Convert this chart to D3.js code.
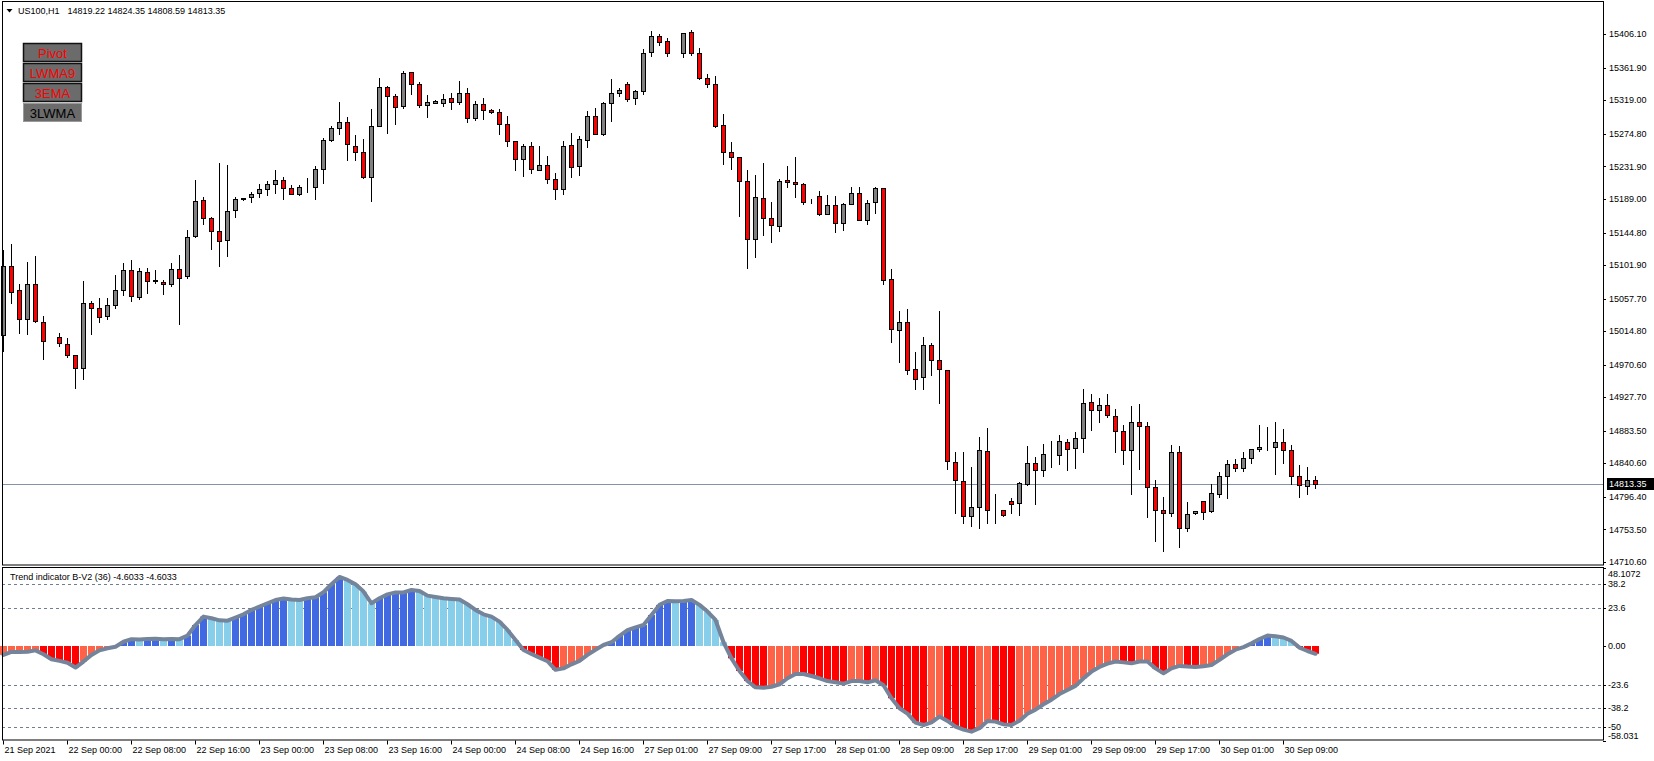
<!DOCTYPE html>
<html><head><meta charset="utf-8">
<script src="https://cdn.jsdelivr.net/npm/d3@7"></script>
<style>html,body{margin:0;padding:0;background:#fff;overflow:hidden}</style>
</head><body><svg id="c" width="1654" height="761"></svg>
<script>
// ---------- DATA ----------
const symbolName = "US100,H1";
const headerValues = [14819.22, 14824.35, 14808.59, 14813.35];
const indicatorTitle = "Trend indicator B-V2 (36) -4.6033 -4.6033";
const lastPrice = 14813.35;

const openP = [15009.3,15100.7,15068.6,15030.4,15076.5,15026.5,null,15006.7,14997.5,14983.0,14965.8,15051.5,15044.9,15035.2,15048.9,15068.6,15095.0,15059.4,15092.4,15081.8,15079.2,15076.5,15096.3,15087.1,15139.8,15187.2,15163.5,15146.4,15134.5,15174.1,15188.6,15191.2,15196.5,15201.7,
15208.3,15213.6,15203.1,15195.1,15204.4,15204.4,15228.1,15266.3,15282.1,15290.0,15258.8,15250.5,15217.5,15284.8,15336.2,15324.3,15311.1,15355.9,15340.1,15312.4,15315.1,15315.1,15321.7,15316.4,15328.3,15295.3,15313.8,15305.9,15303.2,15287.4,15265.0,15241.3,15258.8,
15226.8,15233.4,15214.9,15201.7,15259.7,15232.1,15266.3,15297.9,15274.2,15315.1,15328.3,15340.1,15321.7,15330.9,15382.3,15403.4,15396.8,null,15381.0,15408.6,15381.0,15348.0,15340.1,15286.1,15250.5,15243.9,15212.3,15135.8,15189.9,15163.5,15153.0,15213.6,15211.0,
15208.3,15185.9,15192.5,15168.8,15180.6,15156.9,15182.0,15196.5,15160.9,15184.6,15203.0,15083.1,15015.9,15026.4,14964.5,14954.0,14996.1,14976.4,14963.2,14841.9,14816.9,14770.8,14782.6,14856.4,14780.9,14779.6,14790.5,14787.9,14812.9,14840.6,14831.4,14851.6,14851.2,
14868.3,14860.4,14873.5,14921.0,14910.4,14917.0,14902.5,14882.8,14857.7,14894.6,14889.4,14809.0,14778.6,14774.7,14855.1,14754.9,14774.7,14790.5,14777.3,14799.7,14823.5,14839.3,14834.0,14847.2,14859.0,14861.7,14861.7,14868.3,14857.7,14823.5,14810.3,14819.22];

const highP = [15121.8,15129.7,15077.0,15106.0,15113.9,15034.8,null,15012.4,15005.4,14983.0,15080.9,15054.1,15058.5,15058.5,15088.8,15104.6,15108.6,15098.1,15098.1,15095.4,15081.8,15104.6,15115.2,15148.1,15214.0,15191.6,15165.3,15236.4,15233.8,15191.6,15189.9,15198.7,15209.2,15212.7,
15227.2,15218.0,15207.0,15207.4,15216.7,15232.5,15268.9,15285.2,15316.8,15297.1,15273.3,15268.1,15307.6,15348.5,15337.5,15326.9,15357.7,15355.9,15342.8,15325.6,15319.0,15326.9,15328.3,15344.5,15334.8,15317.7,15322.1,15307.2,15307.6,15298.4,15265.0,15261.0,15263.7,
15258.8,15245.7,15222.8,15265.0,15275.5,15271.6,15305.0,15308.5,15316.8,15346.7,15334.8,15342.8,15332.2,15386.7,15410.0,15406.0,15400.7,null,15407.3,15411.3,15387.6,15353.3,15350.7,15300.6,15263.7,15243.9,15226.8,15220.2,15236.0,15184.6,15214.9,15232.1,15244.4,
15209.6,15188.5,15199.1,15193.8,15192.5,15183.3,15204.4,15204.4,15187.2,15204.4,15203.0,15096.3,15040.9,15043.6,14986.9,15006.7,14998.8,15040.9,14963.2,14855.1,14855.1,14835.3,14875.3,14886.7,14799.8,14779.6,14794.5,14815.6,14863.0,14848.5,14865.7,14869.6,14877.5,
14872.2,14881.4,14938.1,14931.5,14926.3,14931.5,14911.8,14890.7,14915.7,14918.3,14894.6,14818.2,14795.8,14864.3,14863.0,14789.6,14777.3,14790.5,14812.9,14828.7,14844.5,14845.9,14855.1,14859.0,14890.7,14888.0,14894.6,14885.4,14864.3,14838.0,14835.3,14824.35];

const lowP = [14989.1,15052.4,15012.8,15011.5,15027.3,14978.6,null,14995.7,14981.2,14940.4,14952.2,15011.5,15027.3,15031.3,15045.8,15062.5,15055.0,15056.8,15065.6,15078.7,15064.2,15074.8,15024.7,15085.3,15139.4,15156.5,15123.5,15101.1,15114.3,15165.7,15187.2,15185.5,15191.2,15194.7,
15196.5,15188.6,15195.1,15193.8,15197.8,15188.6,15210.5,15265.0,15274.2,15240.8,15240.8,15216.2,15185.9,15284.8,15276.4,15288.3,15308.5,15326.9,15309.8,15296.6,15315.1,15311.1,15307.2,15313.8,15290.0,15292.7,15294.0,15301.9,15275.1,15259.3,15227.7,15218.9,15222.8,
15226.8,15209.6,15189.4,15195.2,15217.6,15220.2,15257.1,15274.2,15272.9,15292.2,15324.3,15317.7,15313.8,15326.9,15377.0,15391.5,15377.0,null,15375.7,15378.3,15346.7,15336.2,15284.3,15235.6,15229.0,15167.0,15097.6,15113.0,15141.1,15132.8,15146.4,15205.3,15191.2,
15182.0,15183.3,15167.5,15168.8,15145.1,15147.7,15182.0,15160.9,15155.6,15170.1,15076.5,15001.0,14974.6,14957.9,14938.1,14938.1,14956.6,14919.7,14832.7,14774.7,14761.5,14757.6,14755.0,14761.5,14761.5,14770.8,14774.7,14772.1,14811.6,14786.6,14823.5,14835.3,14839.3,
14832.2,14834.0,14855.1,14884.1,14894.6,14901.2,14855.1,14839.3,14799.7,14832.7,14769.4,14737.8,14724.6,14770.7,14729.9,14751.0,14773.4,14766.8,14776.0,14795.8,14794.5,14830.0,14830.0,14840.6,14856.4,14857.7,14827.0,14840.6,14812.9,14795.8,14799.7,14808.59];

const closeP = [15100.7,15066.9,15030.4,15076.5,15027.8,15001.4,null,14998.8,14983.0,14965.8,15051.5,15045.8,15033.9,15048.9,15068.6,15095.0,15060.7,15093.7,15080.5,15080.5,15076.5,15096.3,15084.4,15138.5,15185.9,15163.5,15146.4,15133.2,15172.7,15188.6,15189.9,15195.1,15201.7,15208.3,
15213.6,15203.1,15195.1,15204.4,15204.4,15228.1,15266.3,15282.6,15290.0,15261.0,15250.5,15217.5,15284.8,15336.2,15324.3,15309.8,15354.6,15340.1,15312.4,15316.4,15317.7,15320.3,15316.4,15328.3,15295.3,15313.8,15305.9,15303.2,15287.4,15265.0,15241.3,15258.8,15228.1,
15233.4,15214.9,15201.7,15258.4,15230.7,15267.6,15297.9,15274.2,15315.1,15328.3,15332.2,15320.3,15330.9,15381.0,15403.4,15395.5,15381.0,null,15407.3,15381.0,15348.0,15340.1,15285.6,15250.5,15243.9,15212.3,15135.8,15191.2,15163.5,15154.3,15212.3,15211.0,15208.3,
15184.6,15185.9,15168.8,15180.6,15156.9,15182.0,15196.5,15160.9,15183.3,15203.0,15081.8,15017.2,15026.4,14963.2,14951.3,14996.1,14976.4,14964.5,14843.3,14818.2,14770.8,14782.6,14857.8,14778.7,14780.9,14772.1,14786.6,14814.3,14840.6,14831.4,14852.5,14851.6,14869.6,
14859.0,14873.5,14919.7,14910.4,14917.0,14903.8,14882.8,14857.7,14894.6,14889.4,14809.0,14778.6,14774.7,14855.1,14754.9,14773.4,14777.3,14776.0,14801.1,14823.5,14839.3,14834.0,14847.2,14859.0,14861.7,14861.7,14868.3,14857.7,14823.5,14811.6,14818.2,14813.35];

const trendValues = [-5.3,-3.5,-3.5,-3.4,-2.5,-4.9,-8.0,-9.0,-10.1,-13.1,-9.4,-5.3,-2.5,-1.2,-0.3,2.8,4.4,4.2,4.5,4.6,4.3,4.5,4.4,6.6,13.1,18.3,17.3,16.0,15.8,17.7,19.7,22.4,24.4,26.5,28.5,29.4,28.8,28.5,29.6,30.2,33.3,38.2,42.7,40.9,38.2,33.7,26.5,29.6,32.0,33.1,33.2,34.7,34.1,31.2,30.4,29.6,29.2,28.8,25.9,22.4,19.7,18.3,15.2,10.1,3.9,-2.3,-4.7,-7.0,-9.2,-14.5,-13.6,-11.1,-9.0,-5.3,-2.1,0.8,2.5,6.4,9.9,11.7,13.1,19.3,25.5,27.9,27.8,27.9,28.5,25.5,21.4,16.2,2.5,-7.4,-15.2,-21.4,-25.3,-25.5,-24.9,-23.4,-19.7,-17.0,-17.1,-18.3,-19.7,-21.4,-22.2,-23.0,-21.4,-21.4,-22.2,-20.9,-24.0,-32.0,-38.2,-41.5,-47.0,-48.5,-46.8,-43.3,-46.0,-49.5,-51.3,-52.6,-50.5,-46.0,-46.4,-48.1,-48.5,-45.8,-41.5,-39.0,-35.7,-32.9,-29.4,-26.9,-24.4,-19.7,-15.6,-12.7,-10.7,-9.4,-9.9,-10.5,-9.4,-9.4,-13.6,-16.6,-13.6,-12.1,-12.5,-12.7,-12.3,-11.5,-8.4,-4.9,-2.1,-0.5,1.8,4.5,6.6,6.2,5.4,3.3,-0.8,-2.9,-4.6033];

const priceTicks = [15406.10,15361.90,15319.00,15274.80,15231.90,15189.00,15144.80,15101.90,15057.70,15014.80,14970.60,14927.70,14883.50,14840.60,14796.40,14753.50,14710.60];
const indLevels = [38.2,23.6,-23.6,-38.2,-50];
const indAxisValues = [48.1072,38.2,23.6,0,-23.6,-38.2,-50,-58.031];
const indAxisLabels = ["48.1072","38.2","23.6","0.00","-23.6","-38.2","-50","-58.031"];
const timeLabels = ["21 Sep 2021","22 Sep 00:00","22 Sep 08:00","22 Sep 16:00","23 Sep 00:00","23 Sep 08:00","23 Sep 16:00","24 Sep 00:00","24 Sep 08:00","24 Sep 16:00","27 Sep 01:00","27 Sep 09:00","27 Sep 17:00","28 Sep 01:00","28 Sep 09:00","28 Sep 17:00","29 Sep 01:00","29 Sep 09:00","29 Sep 17:00","30 Sep 01:00","30 Sep 09:00"];
const timeLabelBars = [0,8,16,24,32,40,48,56,64,72,80,88,96,104,112,120,128,136,144,152,160];
const buttonLabels = ["Pivot","LWMA9","3EMA","3LWMA"];
const buttonTextColors = ["#ff0000","#ff0000","#ff0000","#000000"];

// ---------- LAYOUT ----------
const W = 1654, H = 761;
const plotL = 2, plotR = 1603;
const mainTop = 2, mainBot = 565;
const indTop = 568, indBot = 740.5;
const FONT = "'Liberation Sans', Arial, sans-serif";

const svg = d3.select("#c");
svg.append("rect").attr("width", W).attr("height", H).attr("fill", "#fff");

const x = d3.scaleLinear().domain([0, 200]).range([3.5, 1603.5]);
const y = d3.scaleLinear().domain([14710.6, 15406.1]).range([561.96, 34.26]);
const yi = d3.scaleLinear().domain([-58.031, 48.1072]).range([740.5, 568.2]);

const N = closeP.length;
const bars = d3.range(N).map(i => ({i, o: openP[i], h: highP[i], l: lowP[i], c: closeP[i], v: trendValues[i]}));

// ---------- MAIN PANEL ----------
const main = svg.append("g");
main.append("line").attr("x1", plotL).attr("x2", plotR)
  .attr("y1", Math.round(y(lastPrice)) + 0.5).attr("y2", Math.round(y(lastPrice)) + 0.5)
  .attr("stroke", "#8494a6").attr("stroke-width", 1);

const candles = main.append("g").selectAll("g").data(bars.filter(d => d.c != null)).join("g");
candles.append("line")
  .attr("x1", d => x(d.i)).attr("x2", d => x(d.i))
  .attr("y1", d => Math.round(y(d.h))).attr("y2", d => Math.round(y(d.l)) + 1)
  .attr("stroke", "#000").attr("stroke-width", 1);
candles.append("rect")
  .attr("x", d => x(d.i) - 2)
  .attr("width", 4)
  .attr("y", d => Math.round(y(Math.max(d.o, d.c))) + 0.5)
  .attr("height", d => Math.max(0, Math.round(y(Math.min(d.o, d.c))) - Math.round(y(Math.max(d.o, d.c)))))
  .attr("fill", d => d.c > d.o ? "#808080" : (d.c < d.o ? "#ff0000" : "#000"))
  .attr("stroke", "#000").attr("stroke-width", 1);

svg.append("rect").attr("x", plotL + 0.5).attr("y", mainTop - 0.5).attr("width", plotR - plotL).attr("height", mainBot - mainTop + 0.5)
  .attr("fill", "none").attr("stroke", "#000").attr("stroke-width", 1);

// price axis
const pa = svg.append("g");
pa.selectAll("line.t").data(priceTicks).join("line").attr("class", "t")
  .attr("x1", plotR).attr("x2", plotR + 3)
  .attr("y1", d => Math.round(y(d)) + 0.5).attr("y2", d => Math.round(y(d)) + 0.5)
  .attr("stroke", "#000");
pa.selectAll("text").data(priceTicks).join("text")
  .attr("x", plotR + 6).attr("y", d => y(d)).attr("dy", "0.35em")
  .attr("font-family", FONT).attr("font-size", 9).attr("fill", "#000")
  .text(d => d3.format(".2f")(d));
const lpY = Math.round(y(lastPrice));
pa.append("rect").attr("x", plotR + 4).attr("y", lpY - 6).attr("width", 47).attr("height", 12).attr("fill", "#000");
pa.append("text").attr("x", plotR + 6).attr("y", lpY).attr("dy", "0.35em")
  .attr("font-family", FONT).attr("font-size", 9).attr("fill", "#fff").text(d3.format(".2f")(lastPrice));

// header
svg.append("path").attr("d", "M6.5,9 L12.5,9 L9.5,12.5 Z").attr("fill", "#000");
svg.append("text").attr("x", 18).attr("y", 11).attr("dy", "0.35em")
  .attr("font-family", FONT).attr("font-size", 9).attr("fill", "#000").text(symbolName);
svg.append("text").attr("x", 67.5).attr("y", 11).attr("dy", "0.35em")
  .attr("font-family", FONT).attr("font-size", 9).attr("fill", "#000")
  .text(headerValues.map(d3.format(".2f")).join(" "));

// buttons
const btn = svg.append("g").selectAll("g").data(buttonLabels).join("g")
  .attr("transform", (d, k) => `translate(23.5,${43.5 + k * 20})`);
btn.append("rect").attr("width", 58).attr("height", 18)
  .attr("fill", "#6b6b6b")
  .attr("stroke", (d, k) => k < 3 ? "#111" : "#9a9a9a").attr("stroke-width", (d, k) => k < 3 ? 1.5 : 1);
btn.append("text").attr("x", 29).attr("y", 9.5).attr("dy", "0.35em").attr("text-anchor", "middle")
  .attr("font-family", FONT).attr("font-size", 13)
  .attr("fill", (d, k) => buttonTextColors[k]).text(d => d);

// ---------- INDICATOR PANEL ----------
const ind = svg.append("g");
ind.selectAll("line.lv").data(indLevels).join("line").attr("class", "lv")
  .attr("x1", plotL).attr("x2", plotR)
  .attr("y1", d => Math.round(yi(d)) + 0.5).attr("y2", d => Math.round(yi(d)) + 0.5)
  .attr("stroke", "#6f7f90").attr("stroke-dasharray", "3,3").attr("stroke-width", 1);

function histColor(d) {
  const prev = d.i > 0 ? trendValues[d.i - 1] : null;
  if (d.v >= 0) return (prev == null || d.v > prev) ? "#4169e1" : "#87ceeb";
  return (prev != null && d.v < prev) ? "#ff0000" : "#ff6347";
}
const y0 = Math.round(yi(0));
ind.append("g").selectAll("rect").data(bars).join("rect")
  .attr("x", d => x(d.i) - 3.5).attr("width", 7)
  .attr("y", d => d.v >= 0 ? yi(d.v) : y0)
  .attr("height", d => Math.abs(yi(d.v) - y0))
  .attr("fill", histColor);

ind.append("path").datum(bars)
  .attr("d", d3.line().x(d => x(d.i)).y(d => yi(d.v)))
  .attr("fill", "none").attr("stroke", "#74849a").attr("stroke-width", 4)
  .attr("stroke-linejoin", "round").attr("stroke-linecap", "round");

svg.append("rect").attr("x", plotL + 0.5).attr("y", indTop - 0.5).attr("width", plotR - plotL).attr("height", indBot - indTop)
  .attr("fill", "none").attr("stroke", "#000").attr("stroke-width", 1);

svg.append("text").attr("x", 10).attr("y", 577).attr("dy", "0.35em")
  .attr("font-family", FONT).attr("font-size", 9).attr("fill", "#000").text(indicatorTitle);

const ia = svg.append("g");
const labelShift = v => v === 48.1072 ? 6 : (v === -58.031 ? -5 : (v === -50 ? -1 : 0));
ia.selectAll("line").data(indAxisValues).join("line")
  .attr("x1", plotR).attr("x2", plotR + 3)
  .attr("y1", d => Math.round(yi(d)) + 0.5).attr("y2", d => Math.round(yi(d)) + 0.5).attr("stroke", "#000");
ia.selectAll("text").data(indAxisValues).join("text")
  .attr("x", plotR + 5).attr("y", d => yi(d) + labelShift(d)).attr("dy", "0.35em")
  .attr("font-family", FONT).attr("font-size", 9).attr("fill", "#000")
  .text((d, k) => indAxisLabels[k]);

// ---------- TIME AXIS ----------
const ta = svg.append("g");
ta.selectAll("line").data(timeLabelBars).join("line")
  .attr("x1", d => x(d)).attr("x2", d => x(d)).attr("y1", indBot).attr("y2", indBot + 4).attr("stroke", "#000");
ta.selectAll("text").data(timeLabelBars).join("text")
  .attr("x", d => x(d) + 1).attr("y", 750).attr("dy", "0.35em")
  .attr("font-family", FONT).attr("font-size", 9).attr("fill", "#000")
  .text((d, k) => timeLabels[k]);
</script>
</body></html>
